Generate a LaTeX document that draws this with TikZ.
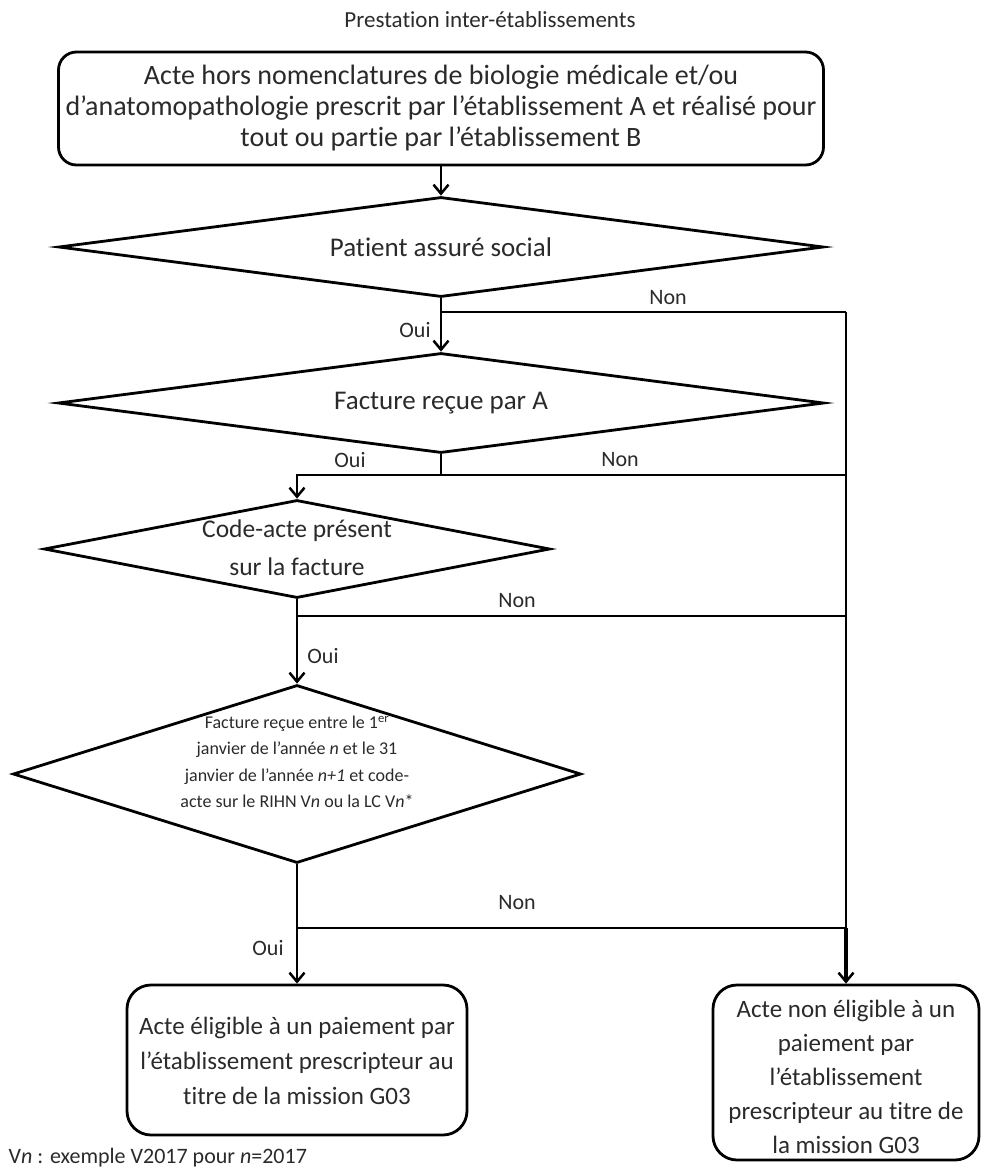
\documentclass[tikz,border=0pt]{standalone}
\usepackage{fontspec}
\setmainfont{Carlito}[Ligatures=NoCommon]
\usetikzlibrary{shapes.geometric,arrows.meta}
\definecolor{txt}{HTML}{2A2A2A}
\begin{document}
\begin{tikzpicture}[x=1pt,y=-1pt,
  line width=2.8pt,
  every node/.style={text=txt},
  box/.style={draw=black, rounded corners=18pt, inner sep=0pt, align=center},
  dia/.style={draw=black, diamond, inner sep=0pt},
  dtext/.style={align=center, font=\fontsize{27}{31}\selectfont},
  lbl/.style={font=\fontsize{22}{24}\selectfont},
  arr/.style={-{Straight Barb[length=9pt,width=15pt,line width=2.5pt]}}]
\useasboundingbox (0,0) rectangle (983,1171);

\node[font=\fontsize{23}{26}\selectfont] (title) at (490,20) {Prestation inter-établissements};

\node[box, minimum width=765pt, minimum height=113pt, font=\fontsize{28}{31}\selectfont] (top) at (441,108.5)
  {Acte hors nomenclatures de biologie médicale et/ou\\
   d’anatomopathologie prescrit par l’établissement A et réalisé pour\\
   tout ou partie par l’établissement B};

\node[dia, minimum width=765pt, minimum height=100pt] (d1) at (441,247) {};
\node[dtext] (t1) at (d1.center) {Patient assuré social};

\node[dia, minimum width=766pt, minimum height=100pt] (d2) at (441,403) {};
\node[dtext] (t2) at (d2.center) {Facture reçue par A};

\node[dia, minimum width=506pt, minimum height=98pt] (d3) at (297,549) {};
\node[dtext, font=\fontsize{25.5}{38}\selectfont] (t3) at (297,548) {Code-acte présent\\sur la facture};

\node[dia, minimum width=568pt, minimum height=178pt] (d4) at (297,774) {};
\node[dtext, font=\fontsize{18}{26.5}\selectfont] (t4) at (297,762)
  {Facture reçue entre le 1\textsuperscript{er}\\
   janvier de l’année \textit{n} et le 31\\
   janvier de l’année \textit{n+1} et code-\\
   acte sur le RIHN V\textit{n} ou la LC V\textit{n}*};

\node[box, rounded corners=24pt, minimum width=340pt, minimum height=150pt] (yes) at (297,1060) {};
\node[align=center, font=\fontsize{25}{35}\selectfont] (tyes) at ([yshift=-1pt]yes.center)
  {Acte éligible à un paiement par\\
   l’établissement prescripteur au\\
   titre de la mission G03};

\node[box, rounded corners=24pt, minimum width=266pt, minimum height=175pt] (no) at (846,1072.5) {};
\node[align=center, font=\fontsize{25}{34}\selectfont] (tno) at ([yshift=-4pt]no.center)
  {Acte non éligible à un\\
   paiement par\\
   l’établissement\\
   prescripteur au titre de\\
   la mission G03};

\node[anchor=west, font=\fontsize{22}{25}\selectfont] (foot) at (4,1158)
  {V\textit{n} : exemple V2017 pour \textit{n}=2017};

% connectors
\coordinate (r1) at (846,312);
\coordinate (j1) at (441,312);
\coordinate (j2) at (441,475);
\coordinate (j3) at (297,616);
\coordinate (j4) at (297,928);

\draw[arr] (top.south) -- (d1.north);
\draw[arr] (d1.south) -- (d2.north);
\draw (j1) -- (r1);
\draw (r1) -- (j4 -| r1);
\draw[arr, line width=3.3pt] (j4 -| r1) -- (no.north);
\draw (d2.south) -- (j2);
\draw (j2) -- (j2 -| r1);
\draw[arr] (j2) -| (d3.north);
\draw[arr] (d3.south) -- (d4.north);
\draw (j3) -- (j3 -| r1);
\draw[arr] (d4.south) -- (yes.north);
\draw (j4) -- (j4 -| r1);

% labels
\node[lbl] (n1) at (668,298) {Non};
\node[lbl] (o1) at (415,330) {Oui};
\node[lbl] (o2) at (350,460) {Oui};
\node[lbl] (n2) at (620,460) {Non};
\node[lbl] (n3) at (517,601) {Non};
\node[lbl] (o3) at (323,656) {Oui};
\node[lbl] (n4) at (517,903) {Non};
\node[lbl] (o4) at (268,948) {Oui};
\end{tikzpicture}
\end{document}
